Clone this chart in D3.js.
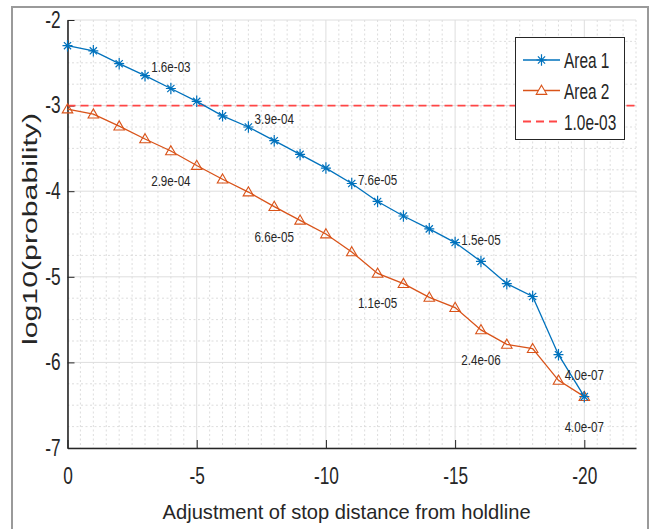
<!DOCTYPE html>
<html>
<head>
<meta charset="utf-8">
<script src="https://cdn.jsdelivr.net/npm/d3@7"></script>
<style>
  html, body { margin: 0; padding: 0; background: #fff; }
  svg { display: block; font-family: "Liberation Sans", Arial, sans-serif; }
  .axis path, .axis line { stroke: #262626; }
  .axis text { fill: #262626; }
</style>
</head>
<body>
<div id="chart"></div>
<script>
// ── Data ────────────────────────────────────────────────────────────────
const distances = [0, -1, -2, -3, -4, -5, -6, -7, -8, -9, -10,
                   -11, -12, -13, -14, -15, -16, -17, -18, -19, -20];
const area1 = [-2.30, -2.36, -2.51, -2.65, -2.80, -2.95, -3.12, -3.25, -3.41, -3.57, -3.73,
               -3.91, -4.12, -4.29, -4.44, -4.60, -4.82, -5.08, -5.23, -5.91, -6.40];
const area2 = [-3.04, -3.10, -3.24, -3.39, -3.53, -3.70, -3.86, -4.01, -4.18, -4.34, -4.50,
               -4.71, -4.96, -5.08, -5.24, -5.36, -5.62, -5.79, -5.84, -6.21, -6.40];
const threshold = -3;            // log10(1.0e-03)

const labelAt    = [-4, -8, -12, -16, -20];
const labels1    = ['1.6e-03', '3.9e-04', '7.6e-05', '1.5e-05', '4.0e-07'];
const labels2    = ['2.9e-04', '6.6e-05', '1.1e-05', '2.4e-06', '4.0e-07'];
const seriesNames = ['Area 1', 'Area 2', '1.0e-03'];

const xTicks = [0, -5, -10, -15, -20];
const yTicks = [-2, -3, -4, -5, -6, -7];

const BLUE = '#0072BD', ORANGE = '#D95319', RED = '#FF4646', INK = '#262626';

// ── Layout ──────────────────────────────────────────────────────────────
const W = 656, H = 529;
const margin = { top: 20, right: 20, bottom: 81, left: 67.5 };
const width  = W - margin.left - margin.right;
const height = H - margin.top - margin.bottom;

const svg = d3.select('#chart').append('svg')
  .attr('width', W)
  .attr('height', H);

// outer frame
svg.append('rect')
  .attr('x', 12).attr('y', 7)
  .attr('width', 636).attr('height', 560)
  .attr('fill', 'none')
  .attr('stroke', '#9a9a9a')
  .attr('stroke-width', 2);

const g = svg.append('g')
  .attr('transform', `translate(${margin.left},${margin.top})`);

const x = d3.scaleLinear().domain([0, -22]).range([0, width]);
const y = d3.scaleLinear().domain([-7, -2]).range([height, 0]);

// squeeze text horizontally to match the reference's narrow glyphs
function squish(sel, k) {
  sel.each(function () {
    const w = this.getComputedTextLength();
    this.setAttribute('textLength', w * k);
    this.setAttribute('lengthAdjust', 'spacingAndGlyphs');
  });
}

// ── Grid ────────────────────────────────────────────────────────────────
const xMinor = d3.range(0, -22.01, -0.5).filter(v => v % 5 !== 0);
const yMinor = d3.range(-7, -1.99, 0.25).filter(v => v % 1 !== 0);

g.append('g').selectAll('line')
  .data(xMinor).enter().append('line')
  .attr('x1', d => x(d)).attr('x2', d => x(d))
  .attr('y1', 0).attr('y2', height)
  .attr('stroke', '#d4d4d4').attr('stroke-width', 0.8)
  .attr('stroke-dasharray', '2,2.5');

g.append('g').selectAll('line')
  .data(yMinor).enter().append('line')
  .attr('y1', d => y(d)).attr('y2', d => y(d))
  .attr('x1', 0).attr('x2', width)
  .attr('stroke', '#d4d4d4').attr('stroke-width', 0.8)
  .attr('stroke-dasharray', '2,2.5');

g.append('g').selectAll('line')
  .data(xTicks).enter().append('line')
  .attr('x1', d => x(d)).attr('x2', d => x(d))
  .attr('y1', 0).attr('y2', height)
  .attr('stroke', '#dedede').attr('stroke-width', 1);

g.append('g').selectAll('line')
  .data(yTicks).enter().append('line')
  .attr('y1', d => y(d)).attr('y2', d => y(d))
  .attr('x1', 0).attr('x2', width)
  .attr('stroke', '#dedede').attr('stroke-width', 1);

// ── Axes ────────────────────────────────────────────────────────────────
const fmt = d => String(d);   // plain hyphen-minus, as in the original

const xAxis = g.append('g')
  .attr('class', 'axis')
  .attr('transform', `translate(0,${height})`)
  .call(d3.axisBottom(x).tickValues(xTicks).tickFormat(fmt)
    .tickSize(-8).tickSizeOuter(0).tickPadding(20));
xAxis.select('.domain').attr('stroke-width', 1.6);
xAxis.selectAll('text').attr('font-size', 23).attr('font-family', null);
squish(xAxis.selectAll('text'), 0.75);

const yAxis = g.append('g')
  .attr('class', 'axis')
  .call(d3.axisLeft(y).tickValues(yTicks).tickFormat(fmt)
    .tickSize(-7).tickSizeOuter(0).tickPadding(7));
yAxis.select('.domain').attr('stroke-width', 1.6);
yAxis.selectAll('text').attr('font-size', 23).attr('font-family', null);
squish(yAxis.selectAll('text'), 0.75);

// axis titles
svg.append('text')
  .attr('x', margin.left + x(-10.8))
  .attr('y', 519)
  .attr('text-anchor', 'middle')
  .attr('font-size', 21)
  .attr('fill', INK)
  .attr('textLength', 368)
  .attr('lengthAdjust', 'spacingAndGlyphs')
  .text('Adjustment of stop distance from holdline');

svg.append('text')
  .attr('transform', 'translate(37,229) rotate(-90)')
  .attr('text-anchor', 'middle')
  .attr('font-size', 21)
  .attr('fill', INK)
  .attr('textLength', 232)
  .attr('lengthAdjust', 'spacingAndGlyphs')
  .text('log10(probability)');

// ── Markers ─────────────────────────────────────────────────────────────
const asterisk = {
  draw(ctx, size) {
    const r = Math.sqrt(size) / 2, ry = r * 1.15, d = r * 0.72;
    ctx.moveTo(-r, 0); ctx.lineTo(r, 0);
    ctx.moveTo(0, -ry); ctx.lineTo(0, ry);
    ctx.moveTo(-d, -d); ctx.lineTo(d, d);
    ctx.moveTo(-d, d); ctx.lineTo(d, -d);
  }
};
const starPath = d3.symbol().type(asterisk).size(100)();
const triPath  = d3.symbol().type(d3.symbolTriangle).size(48)();

// ── Threshold line ──────────────────────────────────────────────────────
g.append('line')
  .attr('x1', 0).attr('x2', width)
  .attr('y1', y(threshold)).attr('y2', y(threshold))
  .attr('stroke', RED).attr('stroke-width', 1.8)
  .attr('stroke-dasharray', '8,5');

// ── Series ──────────────────────────────────────────────────────────────
const line = d3.line().x(d => x(d[0])).y(d => y(d[1]));
const pts1 = distances.map((d, i) => [d, area1[i]]);
const pts2 = distances.map((d, i) => [d, area2[i]]);

g.append('path').datum(pts2)
  .attr('d', line).attr('fill', 'none')
  .attr('stroke', ORANGE).attr('stroke-width', 1.3);
g.append('g').selectAll('path')
  .data(pts2).enter().append('path')
  .attr('d', triPath)
  .attr('transform', d => `translate(${x(d[0])},${y(d[1]) + 0.8})`)
  .attr('fill', 'none').attr('stroke', ORANGE).attr('stroke-width', 1.1);

g.append('path').datum(pts1)
  .attr('d', line).attr('fill', 'none')
  .attr('stroke', BLUE).attr('stroke-width', 1.3);
g.append('g').selectAll('path')
  .data(pts1).enter().append('path')
  .attr('d', starPath)
  .attr('transform', d => `translate(${x(d[0])},${y(d[1])})`)
  .attr('fill', 'none').attr('stroke', BLUE).attr('stroke-width', 1.2);

// value labels
const lab1 = g.append('g').selectAll('text')
  .data(labelAt).enter().append('text')
  .attr('x', d => x(d))
  .attr('y', (d, i) => y(area1[distances.indexOf(d)] + 0.25) + 5)
  .attr('text-anchor', 'middle')
  .attr('font-size', 14.5).attr('fill', INK)
  .text((d, i) => labels1[i]);
squish(lab1, 0.8);

const lab2 = g.append('g').selectAll('text')
  .data(labelAt).enter().append('text')
  .attr('x', d => x(d))
  .attr('y', (d, i) => y(area2[distances.indexOf(d)] - 0.35) + 5)
  .attr('text-anchor', 'middle')
  .attr('font-size', 14.5).attr('fill', INK)
  .text((d, i) => labels2[i]);
squish(lab2, 0.8);

// ── Legend ──────────────────────────────────────────────────────────────
const legend = svg.append('g');
legend.append('rect')
  .attr('x', 515.5).attr('y', 37.5)
  .attr('width', 109).attr('height', 102)
  .attr('fill', '#fff').attr('stroke', INK).attr('stroke-width', 1);

const rowY = [60, 90.5, 121.5];
const rowColor = [BLUE, ORANGE, RED];
const rows = legend.selectAll('g.row')
  .data(seriesNames).enter().append('g')
  .attr('class', 'row')
  .attr('transform', (d, i) => `translate(0,${rowY[i]})`);

rows.append('line')
  .attr('x1', 523).attr('x2', 560)
  .attr('stroke', (d, i) => rowColor[i])
  .attr('stroke-width', (d, i) => i === 2 ? 1.8 : 1.3)
  .attr('stroke-dasharray', (d, i) => i === 2 ? '8,5' : null);

rows.filter((d, i) => i === 0).append('path')
  .attr('d', starPath).attr('transform', 'translate(541.5,0)')
  .attr('fill', 'none').attr('stroke', BLUE).attr('stroke-width', 1.2);
rows.filter((d, i) => i === 1).append('path')
  .attr('d', triPath).attr('transform', 'translate(541.5,0.8)')
  .attr('fill', '#fff').attr('stroke', ORANGE).attr('stroke-width', 1.1);

const legText = rows.append('text')
  .attr('x', 564).attr('y', 8)
  .attr('font-size', 22).attr('fill', INK)
  .text(d => d);
squish(legText, 0.7);
</script>
</body>
</html>
